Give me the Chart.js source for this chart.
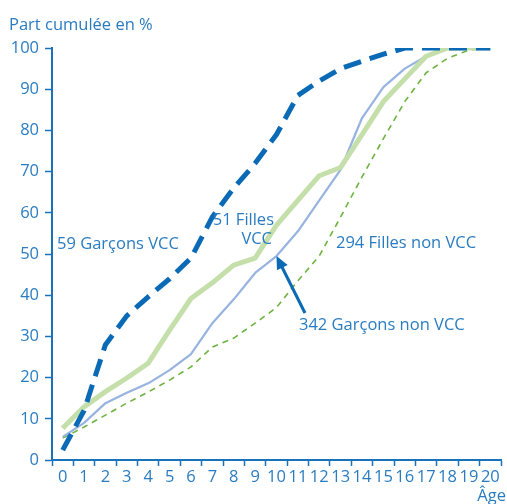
<!DOCTYPE html>
<html>
<head>
<meta charset="utf-8">
<script src="https://cdn.jsdelivr.net/npm/chart.js@4/dist/chart.umd.min.js"></script>
<style>
  html, body { margin: 0; padding: 0; background: #fff; }
  #wrap { width: 507px; height: 504px; }
</style>
</head>
<body>
<div id="wrap"><canvas id="myChart" width="507" height="504"></canvas></div>
<script>
//----DATA----
const ages = ['0','1','2','3','4','5','6','7','8','9','10','11','12','13','14','15','16','17','18','19','20'];
const garconsVCC    = [2.4, 12, 28, 35, 39.6, 44, 49, 59, 66, 72, 79, 88.5, 92, 95, 96.8, 98.5, 100, 100, 100, 100, 100];
const fillesVCC     = [7.7, 12.9, 16.6, 19.9, 23.5, 31.5, 39.2, 43, 47.3, 49, 57, 63, 69, 71, 79, 87, 92.5, 98, 100, 100, 100];
const garconsNonVCC = [5.6, 9, 13.8, 16.3, 18.6, 21.8, 25.7, 33.2, 39, 45.4, 49.5, 55.5, 63, 70.5, 83, 90.5, 95, 98, 100, 100, 100];
const fillesNonVCC  = [5.3, 8, 10.9, 13.8, 16.5, 19.4, 22.6, 27.4, 29.6, 33.2, 37, 43.5, 49.5, 59, 68.7, 78, 87, 94, 97.5, 99.5, 100];

const BLUE = '#1a72bb';
const TXT = '#2a7cc0';
const FONT = "'Open Sans', sans-serif";

//----PLUGINS----
const annotations = {
  id: 'annotations',
  afterDraw(chart) {
    const { ctx, scales: { x, y } } = chart;
    ctx.save();
    ctx.fillStyle = TXT;
    ctx.font = '16.5px ' + FONT;
    ctx.textBaseline = 'middle';
    ctx.textAlign = 'left';
    ctx.fillText('Part cumulée en %', 9, 25);
    ctx.fillText('59 Garçons VCC', 57, 244);
    ctx.fillText('294 Filles non VCC', 336, 243);
    ctx.fillText('342 Garçons non VCC', 299, 325);
    ctx.textAlign = 'right';
    ctx.fillText('51 Filles', 274, 220);
    ctx.fillText('VCC', 272, 239);
    ctx.fillText('Âge', 506, 496);

    // arrow to the 342 Garçons non VCC line
    const tx = x.getPixelForValue(10), ty = y.getPixelForValue(49.5);
    const sx = 305, sy = 313;
    const ang = Math.atan2(ty - sy, tx - sx);
    ctx.strokeStyle = '#0a6ab5';
    ctx.fillStyle = '#0a6ab5';
    ctx.lineWidth = 3;
    ctx.beginPath();
    ctx.moveTo(sx, sy);
    ctx.lineTo(tx - 8 * Math.cos(ang), ty - 8 * Math.sin(ang));
    ctx.stroke();
    ctx.beginPath();
    ctx.moveTo(tx, ty);
    ctx.lineTo(tx - 13 * Math.cos(ang) + 6 * Math.sin(ang), ty - 13 * Math.sin(ang) - 6 * Math.cos(ang));
    ctx.lineTo(tx - 13 * Math.cos(ang) - 6 * Math.sin(ang), ty - 13 * Math.sin(ang) + 6 * Math.cos(ang));
    ctx.closePath();
    ctx.fill();
    ctx.restore();
  }
};

//----CONFIG----
const config = {
  type: 'line',
  data: {
    labels: ages,
    datasets: [
      { label: '294 Filles non VCC', data: fillesNonVCC, borderColor: '#6cb33f', borderWidth: 1.6, borderDash: [6, 5], order: 4 },
      { label: '342 Garçons non VCC', data: garconsNonVCC, borderColor: '#97b3df', borderWidth: 2.2, order: 3 },
      { label: '51 Filles VCC', data: fillesVCC, borderColor: '#c4dfaa', borderWidth: 5, order: 2 },
      { label: '59 Garçons VCC', data: garconsVCC, borderColor: '#0a6ab5', borderWidth: 5, borderDash: [18, 9], order: 1 }
    ]
  },
  options: {
    responsive: false,
    animation: false,
    layout: { padding: { top: 48, right: 6, left: 0, bottom: 0 } },
    elements: { point: { radius: 0 }, line: { tension: 0, borderCapStyle: 'butt', borderJoinStyle: 'round' } },
    scales: {
      x: {
        type: 'category',
        offset: true,
        grid: { offset: true, drawOnChartArea: false, drawTicks: true, tickLength: 6, tickColor: BLUE, tickWidth: 1.5 },
        border: { display: true, color: BLUE, width: 2 },
        ticks: { color: TXT, font: { family: FONT, size: 16.5 }, padding: 1, maxRotation: 0, autoSkip: false },
        afterFit(scale) { scale.height = 44; }
      },
      y: {
        min: 0, max: 100,
        grid: { drawOnChartArea: false, drawTicks: true, tickLength: 7, tickColor: BLUE, tickWidth: 1.5 },
        border: { display: true, color: BLUE, width: 2 },
        ticks: { stepSize: 10, color: TXT, font: { family: FONT, size: 16.5 }, padding: 6 },
        afterFit(scale) { scale.width = 52; }
      }
    },
    plugins: { legend: { display: false }, tooltip: { enabled: false } }
  },
  plugins: [annotations]
};

const myChart = new Chart(document.getElementById('myChart'), config);
</script>
</body>
</html>
